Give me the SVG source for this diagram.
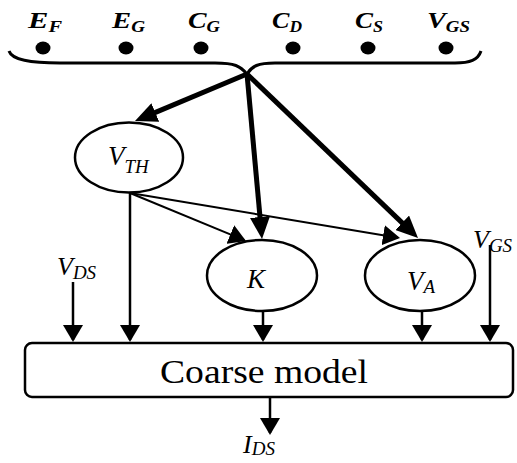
<svg xmlns="http://www.w3.org/2000/svg" width="517" height="463" viewBox="0 0 517 463">
<style>
.lbl{font-style:italic;fill:#000}
.top{font-weight:bold;font-size:24px}
.sub{font-size:16px}
.isub{font-size:19px}
.node{fill:#fff;stroke:#000;stroke-width:2.5}
.thick{stroke:#000;stroke-width:5;fill:none}
.thin{stroke:#000;stroke-width:2;fill:none}
.vert{stroke:#000;stroke-width:2.5;fill:none}
</style>
<defs>
<marker id="hThick" markerUnits="userSpaceOnUse" viewBox="0 0 22 20" refX="12" refY="10" markerWidth="22" markerHeight="20" orient="auto"><path d="M0,0 L22,10 L0,20 z" fill="#000"/></marker>
<marker id="hThin" markerUnits="userSpaceOnUse" viewBox="0 0 17 20" refX="15" refY="10" markerWidth="17" markerHeight="20" orient="auto"><path d="M0,0 L17,10 L0,20 z" fill="#000"/></marker>
</defs>
<g id="inputs">
<text class="lbl top" font-family="Liberation Serif" x="28" y="28" textLength="34" lengthAdjust="spacingAndGlyphs">E<tspan class="sub" dy="4">F</tspan></text>
<text class="lbl top" font-family="Liberation Serif" x="112" y="28" textLength="33" lengthAdjust="spacingAndGlyphs">E<tspan class="sub" dy="4">G</tspan></text>
<text class="lbl top" font-family="Liberation Serif" x="188" y="28" textLength="32" lengthAdjust="spacingAndGlyphs">C<tspan class="sub" dy="4">G</tspan></text>
<text class="lbl top" font-family="Liberation Serif" x="272" y="28" textLength="30" lengthAdjust="spacingAndGlyphs">C<tspan class="sub" dy="4">D</tspan></text>
<text class="lbl top" font-family="Liberation Serif" x="355" y="28" textLength="28" lengthAdjust="spacingAndGlyphs">C<tspan class="sub" dy="4">S</tspan></text>
<text class="lbl top" font-family="Liberation Serif" x="427" y="28" textLength="43" lengthAdjust="spacingAndGlyphs">V<tspan class="sub" dy="4">GS</tspan></text>
<ellipse cx="43" cy="48" rx="7.5" ry="6.5"/>
<ellipse cx="126" cy="48" rx="7.5" ry="6.5"/>
<ellipse cx="201" cy="48" rx="7.5" ry="6.5"/>
<ellipse cx="293" cy="48" rx="7.5" ry="6.5"/>
<ellipse cx="368" cy="48" rx="7.5" ry="6.5"/>
<ellipse cx="446" cy="48" rx="7.5" ry="6.5"/>
<path d="M9,51 C12,60 30,63 60,63 L215,63 C235,63 240,66 247,74 C252,66 258,63 275,63 L455,63 C470,63 478,60 481,51" fill="none" stroke="#000" stroke-width="3"/>
</g>
<g id="VTH">
<ellipse class="node" cx="129" cy="157.5" rx="54" ry="35"/>
<text class="lbl" font-family="Liberation Serif" x="108" y="165" font-size="27">V<tspan class="isub" dy="8">TH</tspan></text>
</g>
<g id="K">
<ellipse class="node" cx="262" cy="275.5" rx="55" ry="35.5"/>
<text class="lbl" font-family="Liberation Serif" x="247" y="288" font-size="27">K</text>
</g>
<g id="VA">
<ellipse class="node" cx="420" cy="275.5" rx="55" ry="35.5"/>
<text class="lbl" font-family="Liberation Serif" x="407" y="290" font-size="27">V<tspan class="isub" dy="3">A</tspan></text>
</g>
<g id="coarse">
<rect x="25" y="343" width="488" height="54" rx="7" fill="#fff" stroke="#000" stroke-width="2.5"/>
<text x="264" y="383" text-anchor="middle" font-family="Liberation Serif" font-size="34" textLength="208" lengthAdjust="spacingAndGlyphs">Coarse model</text>
</g>
<g id="VDS">
<text class="lbl" font-family="Liberation Serif" x="57" y="275" font-size="26">V<tspan class="isub" dy="4">DS</tspan></text>
</g>
<g id="VGS">
<text class="lbl" font-family="Liberation Serif" x="473" y="248" font-size="26">V<tspan class="isub" dy="4">GS</tspan></text>
</g>
<g id="IDS">
<text class="lbl" font-family="Liberation Serif" x="243" y="453" font-size="26">I<tspan class="isub" dy="2">DS</tspan></text>
</g>
<g id="connectors">
<line class="thick" x1="247" y1="74" x2="144.2" y2="117.1" marker-end="url(#hThick)"/>
<line class="thick" x1="247" y1="74" x2="261.1" y2="229" marker-end="url(#hThick)"/>
<line class="thick" x1="247" y1="74" x2="410.8" y2="231.1" marker-end="url(#hThick)"/>
<line class="thin" x1="130" y1="193" x2="244.2" y2="240.2" marker-end="url(#hThin)"/>
<line class="thin" x1="130" y1="193" x2="398" y2="237.7" marker-end="url(#hThin)"/>
<line class="vert" x1="130" y1="193" x2="130" y2="340" marker-end="url(#hThin)"/>
<line class="vert" x1="73" y1="282" x2="73" y2="340" marker-end="url(#hThin)"/>
<line class="vert" x1="263" y1="311" x2="263" y2="340" marker-end="url(#hThin)"/>
<line class="vert" x1="422" y1="311" x2="422" y2="340" marker-end="url(#hThin)"/>
<line class="vert" x1="490" y1="245" x2="490" y2="340" marker-end="url(#hThin)"/>
<line class="vert" x1="270" y1="397" x2="270" y2="433" marker-end="url(#hThin)"/>
</g>
</svg>
